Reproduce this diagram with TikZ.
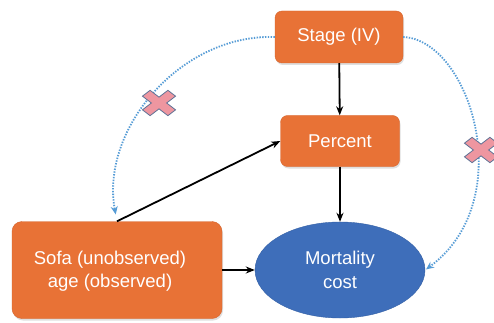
\documentclass[tikz,border=0pt]{standalone}
\usepackage{fontspec}
\setmainfont{Liberation Sans}
\usetikzlibrary{shapes.geometric,arrows.meta,shadows}
\definecolor{boxorange}{RGB}{232,114,54}
\definecolor{boxedge}{RGB}{214,100,45}
\definecolor{ellblue}{RGB}{62,110,186}
\definecolor{elledge}{RGB}{50,95,165}
\definecolor{dotblue}{RGB}{86,156,214}
\definecolor{crosspink}{RGB}{238,150,160}
\definecolor{crossedge}{RGB}{95,115,150}
\tikzset{
  obox/.style={draw=boxedge, fill=boxorange, rounded corners=7pt, text=white,
    font=\fontsize{18.5}{23}\selectfont, align=center, inner sep=0pt,
    drop shadow={shadow xshift=1pt, shadow yshift=-2pt, opacity=0.25}},
  oval/.style={ellipse, draw=elledge, fill=ellblue, text=white,
    font=\fontsize{18.5}{24}\selectfont, align=center, inner sep=0pt,
    minimum width=170pt, minimum height=96pt},
  lbl/.style={text=white, font=\fontsize{18.5}{23}\selectfont, align=center, inner sep=0pt},
  causal/.style={-{Stealth[length=9pt,width=7pt]}, line width=1.8pt, black},
  blocked/.style={-{Stealth[length=8pt,width=7pt]}, dotblue, line width=1.8pt,
    dash pattern=on 1.4pt off 1.4pt},
  xmark/.pic={
    \fill[crosspink, draw=crossedge, line width=0.8pt, xscale=1.2, yscale=0.92, rotate=45]
      (4.5,15) -- (4.5,4.5) -- (15,4.5) -- (15,-4.5) -- (4.5,-4.5) -- (4.5,-15) --
      (-4.5,-15) -- (-4.5,-4.5) -- (-15,-4.5) -- (-15,4.5) -- (-4.5,4.5) -- (-4.5,15) -- cycle;
  }
}
\begin{document}
\begin{tikzpicture}[x=1pt,y=-1pt]
\useasboundingbox[fill=white] (0,0) rectangle (494,323);
\node[obox, minimum width=128pt, minimum height=52pt] (stage) at (339,37) {Stage (IV)};
\node[obox, minimum width=119pt, minimum height=51pt] (percent) at (340,141) {Percent};
\node[obox, minimum width=210pt, minimum height=97pt, rounded corners=10pt] (sofa) at (117,270) {};
\node[lbl] (sofatext) at (110,271) {Sofa (unobserved)\\age (observed)};
\node[oval] (mort) at (340,270) {Mortality\\cost};

\draw[causal] (stage) -- (percent);
\draw[causal] (percent) -- (mort);
\draw[causal] (sofa.east) -- (mort.west);
\draw[causal] (sofa.north) -- (percent.west);

\draw[blocked, shorten >=7pt] (stage.west) .. controls (180,34) and (100,130) .. (sofa.north);
\draw[blocked, shorten >=1pt] (stage.east) .. controls (470,40) and (520,200) .. (mort.east);

\pic at (159,103) {xmark};
\pic at (481,150) {xmark};
\end{tikzpicture}
\end{document}
